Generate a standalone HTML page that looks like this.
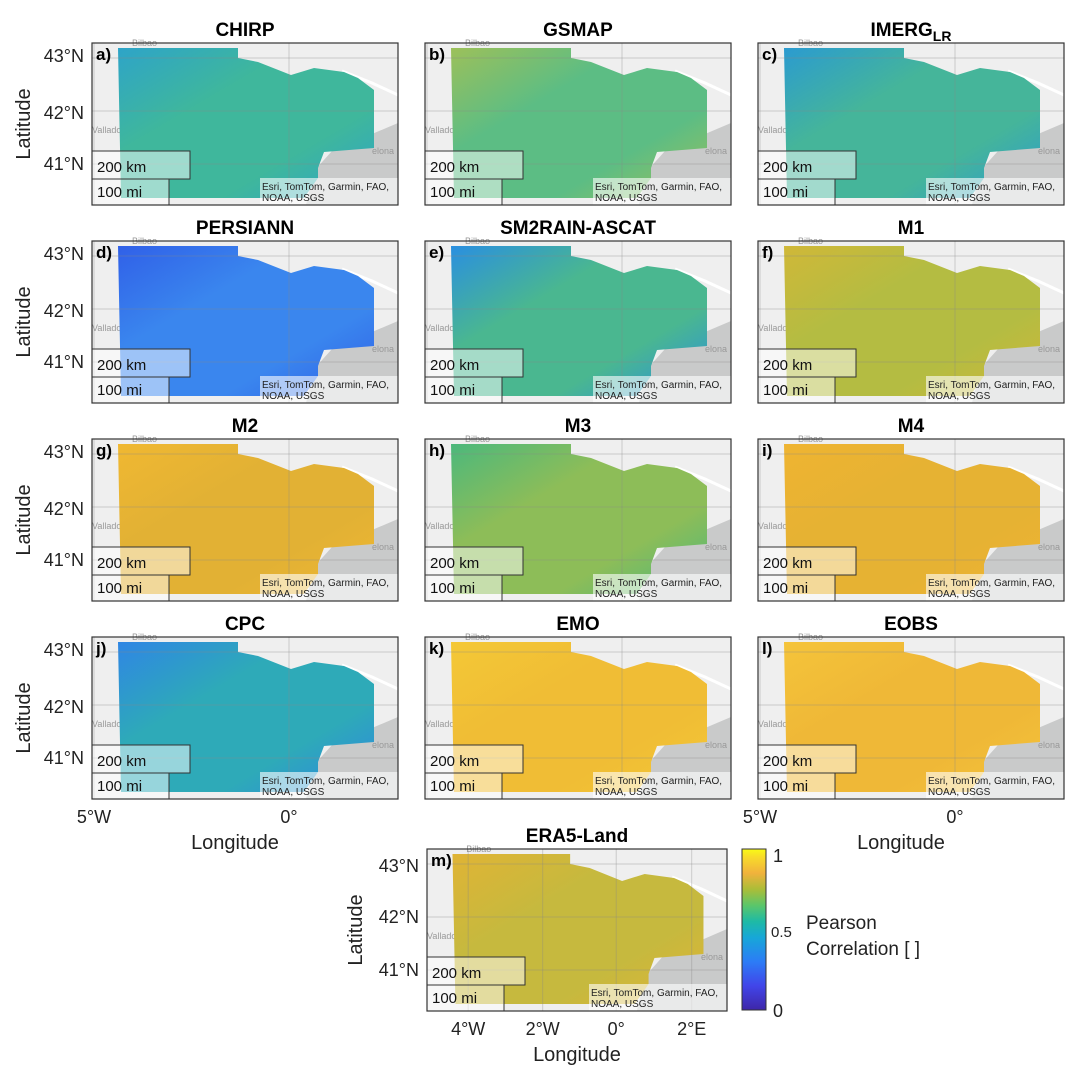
<!DOCTYPE html>
<html><head><meta charset="utf-8">
<style>
html,body{margin:0;padding:0;background:#fff;}
svg{display:block;font-family:"Liberation Sans",Arial,sans-serif;}
</style></head>
<body>
<svg id="fig" width="1078" height="1082" viewBox="0 0 1078 1082" xmlns="http://www.w3.org/2000/svg">
<defs>
<linearGradient id="parula" x1="0" y1="1" x2="0" y2="0">
<stop offset="0" stop-color="#3e26a8"/><stop offset="0.15" stop-color="#4145e9"/>
<stop offset="0.3" stop-color="#2c7cf6"/><stop offset="0.45" stop-color="#17a7d8"/>
<stop offset="0.55" stop-color="#1ebaa5"/><stop offset="0.65" stop-color="#5bc66a"/>
<stop offset="0.75" stop-color="#abbd38"/><stop offset="0.85" stop-color="#f1b23c"/>
<stop offset="0.95" stop-color="#f8db2a"/><stop offset="1" stop-color="#f9fb15"/>
</linearGradient>
</defs>
<g id="panels"></g>
<g id="cbar">
<rect x="742" y="849" width="24" height="161" fill="url(#parula)" stroke="#333" stroke-width="1"/>
<text x="773" y="862" font-size="18" fill="#222">1</text>
<text x="771" y="937" font-size="15" fill="#222">0.5</text>
<text x="773" y="1017" font-size="18" fill="#222">0</text>
<text x="806" y="929" font-size="19" fill="#222">Pearson</text>
<text x="806" y="955" font-size="19" fill="#222">Correlation [ ]</text>
</g>
</svg>
<script>
const names=["CHIRP","GSMAP","IMERG","PERSIANN","SM2RAIN-ASCAT","M1","M2","M3","M4","CPC","EMO","EOBS","ERA5-Land"];
const letters=["a","b","c","d","e","f","g","h","i","j","k","l","m"];
const baseColors=["#3fb79c","#5cbd84","#45b59a","#3a86ee","#4ab790","#b4bc42","#e2b134","#8dbd58","#e6b233","#2eaab8","#f0bd35","#efb837","#c6b93e"];
const accentColors=["#2ea4c8","#9cc05a","#2b9bd0","#3060e8","#2a8fe0","#d0b838","#f0b832","#4cb87c","#efb432","#2f86e4","#f4c836","#f5c43a","#e0b435"];
const NS="http://www.w3.org/2000/svg";
const root=document.getElementById('panels');
function el(tag,attrs,parent){const e=document.createElementNS(NS,tag);for(const k in attrs)e.setAttribute(k,attrs[k]);(parent||root).appendChild(e);return e;}
const shape=[[26,5],[146,5],[146,15],[166,19],[199,32],[222,25],[252,29],[266,35],[282,47],[282,105],[232,109],[226,125],[226,135],[212,155],[29,155]];
function panelPos(i){
  if(i===12) return {x:427,y:849,w:300};
  return {x:92+333*(i%3),y:43+198*Math.floor(i/3),w:306};
}
names.forEach((nm,i)=>{
  const p=panelPos(i),h=162,s=p.w/306;
  const g=el('g',{transform:`translate(${p.x},${p.y})`});
  
  
  el('rect',{x:0,y:0,width:p.w,height:h,fill:'#efefef'},g);
  el('polygon',{points:`${306*s},${80} ${240*s},108 ${222*s},128 ${214*s},162 ${306*s},162`,fill:'#c9caca'},g);
  el('polyline',{points:`${250*s},28 ${280*s},40 ${306*s},52`,fill:'none',stroke:'#fff','stroke-width':3},g);
  const t1=el('text',{x:40*s,y:3,'font-size':9,fill:'#999'},g);t1.textContent='Bilbao';
  const t2=el('text',{x:0,y:90,'font-size':9,fill:'#999'},g);t2.textContent='Vallado';
  const t3=el('text',{x:p.w-26,y:111,'font-size':9,fill:'#999'},g);t3.textContent='elona';
  const pts=shape.map(q=>`${q[0]*s},${q[1]}`).join(' ');
  const gid='grad'+i;
  const lg=el('linearGradient',{id:gid,x1:0,y1:0,x2:1,y2:1},document.querySelector('defs'));
  el('stop',{offset:0,'stop-color':accentColors[i]},lg);
  el('stop',{offset:0.35,'stop-color':baseColors[i]},lg);
  el('stop',{offset:0.7,'stop-color':baseColors[i]},lg);
  el('stop',{offset:1,'stop-color':accentColors[i]},lg);
  const poly=el('polygon',{points:pts,fill:`url(#${gid})`},g);
  
  
  [15,68,121].forEach(y=>el('line',{x1:0,x2:p.w,y1:y,y2:y,stroke:'#888','stroke-opacity':0.35},g));
  (i===12?[42,118,193,270]:[2,197]).forEach(x=>el('line',{x1:x*s,x2:x*s,y1:0,y2:h,stroke:'#888','stroke-opacity':0.35},g));
  el('rect',{x:0,y:108,width:98,height:28,fill:'#fff','fill-opacity':0.5,stroke:'#333','stroke-width':1},g);
  el('rect',{x:0,y:136,width:77,height:26,fill:'#fff','fill-opacity':0.5,stroke:'#333','stroke-width':1},g);
  const k1=el('text',{x:5,y:129,'font-size':15,fill:'#111'},g);k1.textContent='200 km';
  const k2=el('text',{x:5,y:154,'font-size':15,fill:'#111'},g);k2.textContent='100 mi';
  el('rect',{x:p.w-138,y:135,width:138,height:27,fill:'#fff','fill-opacity':0.6},g);
  const a1=el('text',{x:p.w-136,y:147,'font-size':10,fill:'#222'},g);a1.textContent='Esri, TomTom, Garmin, FAO,';
  const a2=el('text',{x:p.w-136,y:158,'font-size':10,fill:'#222'},g);a2.textContent='NOAA, USGS';
  el('rect',{x:0,y:0,width:p.w,height:h,fill:'none',stroke:'#333','stroke-width':1.2},g);
  const lb=el('text',{x:4,y:17,'font-size':17,'font-weight':'bold',fill:'#000'},g);lb.textContent=letters[i]+')';
  const ti=el('text',{x:p.w/2,y:-7,'font-size':19,'font-weight':'bold','text-anchor':'middle',fill:'#000'},g);
  
  
  if(i===2){ti.textContent='IMERG';const sub=el('tspan',{'font-size':14,dy:5},ti);sub.textContent='LR';}
  else ti.textContent=nm;
  if(i%3===0||i===12){
    const ys=i===12?[17,68,121]:[13,70,121];
    ['43°N','42°N','41°N'].forEach((l,j)=>{const t=el('text',{x:-8,y:ys[j]+6,'font-size':18,'text-anchor':'end',fill:'#222'},g);t.textContent=l;});
    const lx=i===12?-65:-62;
    const la=el('text',{x:lx,y:h/2,'font-size':20,'text-anchor':'middle',fill:'#222',transform:`rotate(-90 ${lx} ${h/2})`},g);
    
    
    la.textContent='Latitude';
  }
  if(i===9||i===11||i===12){
    const xt=i===12?[[42,'4°W'],[118,'2°W'],[193,'0°'],[270,'2°E']]:[[2,'5°W'],[197,'0°']];
    xt.forEach(q=>{const t=el('text',{x:q[0]*s,y:h+24,'font-size':18,'text-anchor':'middle',fill:'#222'},g);t.textContent=q[1];});
    const xl=el('text',{x:p.w/2+(i===12?0:-10),y:h+50,'font-size':20,'text-anchor':'middle',fill:'#222'},g);
    
    
    xl.textContent='Longitude';
  }
});
</script>
</body></html>
